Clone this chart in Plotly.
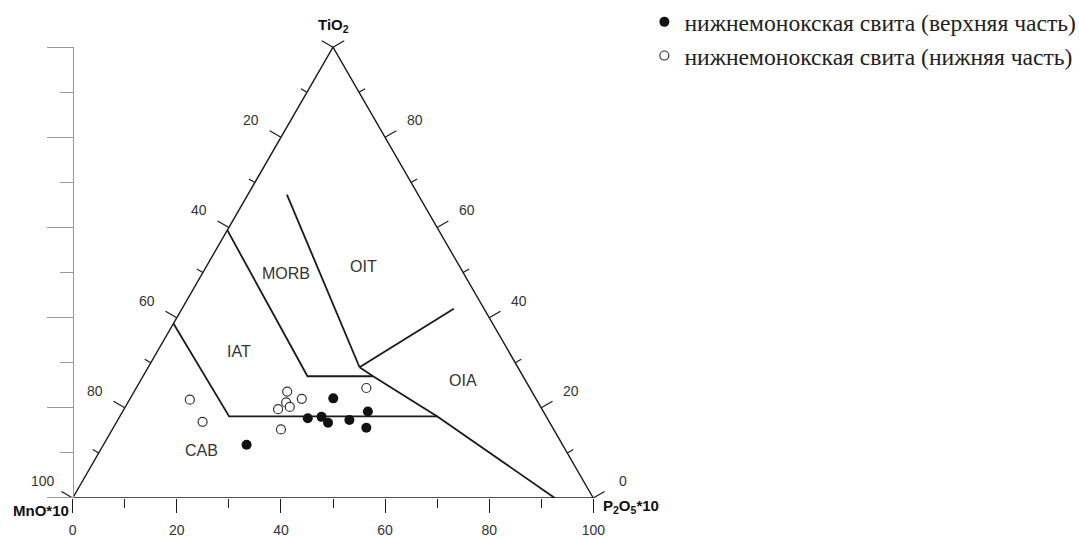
import numpy as np
import plotly.graph_objects as go

# Mullen (1983) discrimination diagram MnO*10 – TiO2 – P2O5*10, values in % (rows sum to 100)
upper_tio2 = [22.1, 17.7, 18.0, 16.7, 17.3, 19.2, 15.6, 11.8]
upper_mno = [38.9, 46.0, 43.2, 42.6, 38.2, 33.7, 35.8, 60.7]
upper_p2o5 = [39.0, 36.3, 38.8, 40.7, 44.5, 47.1, 48.6, 27.5]

lower_tio2 = [21.8, 16.9, 23.6, 21.2, 20.2, 19.7, 22.0, 15.2, 24.4]
lower_mno = [66.6, 66.6, 47.0, 48.4, 48.2, 50.7, 45.0, 52.4, 31.4]
lower_p2o5 = [11.6, 16.5, 29.4, 30.4, 31.6, 29.6, 33.0, 32.4, 44.2]

series_names = ["нижнемонокская свита (верхняя часть)",
                "нижнемонокская свита (нижняя часть)"]

# field boundaries as (TiO2, MnO*10, P2O5*10) vertices
line_morb_iat = [(59.4, 40.6, 0.0), (27.0, 41.4, 31.6), (27.0, 28.8, 44.2)]
line_iat_cab = [(38.7, 61.3, 0.0), (18.1, 60.9, 21.0), (18.1, 20.9, 61.0)]
line_morb_oit = [(67.3, 25.2, 7.5), (29.0, 30.4, 40.6)]
line_oit_oia = [(29.0, 30.4, 40.6), (42.0, 5.8, 52.2)]
line_oia = [(29.0, 30.4, 40.6), (27.0, 28.8, 44.2), (18.1, 20.9, 61.0), (0.0, 7.4, 92.6)]

field_names = ["MORB", "OIT", "IAT", "OIA", "CAB"]
field_tio2 = [49.7, 51.3, 32.4, 26.1, 10.6]
field_mno = [34.1, 18.5, 51.8, 12.0, 69.9]
field_p2o5 = [16.2, 30.2, 15.8, 61.9, 19.5]

edge_steps = list(range(0, 101, 10))
label_steps = list(range(0, 101, 20))

R3 = np.sqrt(3) / 2


def to_xy(ti, mn, p):
    ti, mn, p = (np.asarray(v, dtype=float) for v in (ti, mn, p))
    s = ti + mn + p
    ti, p = ti / s * 100, p / s * 100
    return p + ti / 2, ti * R3


def poly(points):
    ti, mn, p = zip(*points)
    return to_xy(ti, mn, p)


# pixel geometry of the plotting area
W, H = 1079, 538
MB = 40
X0_PX = 72.7
SCALE = 5.206  # px per composition unit
PLOT_H = H - MB

INK = "#1a1a1a"
TXT = "#333333"
SANS = "Arial, Liberation Sans, sans-serif"

fig = go.Figure()

# triangle outline
tx, ty = to_xy([0, 100, 0, 0], [100, 0, 0, 100], [0, 0, 100, 0])
fig.add_trace(go.Scatter(x=tx, y=ty, mode="lines", line=dict(color=INK, width=1.4),
                         hoverinfo="skip", showlegend=False))

# field boundaries
for pts in (line_morb_iat, line_iat_cab, line_morb_oit, line_oit_oia, line_oia):
    lx, ly = poly(pts)
    fig.add_trace(go.Scatter(x=lx, y=ly, mode="lines", line=dict(color=INK, width=1.8),
                             hoverinfo="skip", showlegend=False))

# ticks on the inclined edges
n_left = np.array([-R3, 0.5])
n_right = np.array([R3, 0.5])
long_len, short_len = 13 / SCALE, 7 / SCALE
kx, ky = [], []
for v in edge_steps:
    ln = long_len if v % 20 == 0 else short_len
    # left edge: MnO*10 = v
    ex, ey = to_xy(100 - v, v, 0)
    kx += [float(ex), float(ex + n_left[0] * ln), None]
    ky += [float(ey), float(ey + n_left[1] * ln), None]
    # right edge: TiO2 = v
    ex, ey = to_xy(v, 0, 100 - v)
    kx += [float(ex), float(ex + n_right[0] * ln), None]
    ky += [float(ey), float(ey + n_right[1] * ln), None]
fig.add_trace(go.Scatter(x=kx, y=ky, mode="lines", line=dict(color=INK, width=1.2),
                         hoverinfo="skip", showlegend=False))

# data
ux, uy = to_xy(upper_tio2, upper_mno, upper_p2o5)
fig.add_trace(go.Scatter(x=ux, y=uy, mode="markers", name=series_names[0],
                         marker=dict(symbol="circle", size=10, color="#111111",
                                     line=dict(width=0))))
lx_, ly_ = to_xy(lower_tio2, lower_mno, lower_p2o5)
fig.add_trace(go.Scatter(x=lx_, y=ly_, mode="markers", name=series_names[1],
                         marker=dict(symbol="circle", size=9, color="white",
                                     line=dict(width=1.2, color="#333333"))))

# empty trace that carries the vertical scale on the left
fig.add_trace(go.Scatter(x=[], y=[], yaxis="y2", hoverinfo="skip", showlegend=False))

annotations = []
off = 34
for v in label_steps:
    if v > 0:
        ex, ey = to_xy(100 - v, v, 0)
        annotations.append(dict(x=float(ex), y=float(ey), text=str(v), showarrow=False,
                                xshift=-R3 * off, yshift=0.5 * off,
                                font=dict(family=SANS, size=14, color=TXT)))
    if v < 100:
        ex, ey = to_xy(v, 0, 100 - v)
        annotations.append(dict(x=float(ex), y=float(ey), text=str(v), showarrow=False,
                                xshift=R3 * off, yshift=0.5 * off,
                                font=dict(family=SANS, size=14, color=TXT)))

# field names
fx, fy = to_xy(field_tio2, field_mno, field_p2o5)
for name, x, y in zip(field_names, fx, fy):
    annotations.append(dict(x=float(x), y=float(y), text=name, showarrow=False,
                            font=dict(family=SANS, size=16, color=TXT)))

# apex names
apex_font = dict(family=SANS, size=15, color="#111111")
ax_, ay_ = to_xy(100, 0, 0)
annotations.append(dict(x=float(ax_), y=float(ay_), text="<b>TiO<sub>2</sub></b>",
                        showarrow=False, yshift=22, font=apex_font))
bx_, by_ = to_xy(0, 100, 0)
annotations.append(dict(x=float(bx_), y=float(by_), text="<b>MnO*10</b>", showarrow=False,
                        xanchor="right", xshift=-2, yshift=-12, font=apex_font))
cx_, cy_ = to_xy(0, 0, 100)
annotations.append(dict(x=float(cx_), y=float(cy_), text="<b>P<sub>2</sub>O<sub>5</sub>*10</b>",
                        showarrow=False, xanchor="left", xshift=8, yshift=-8, font=apex_font))

x_lo = -X0_PX / SCALE
x_hi = (W - X0_PX) / SCALE
y_hi = PLOT_H / SCALE
ruler_vals = [v * R3 for v in edge_steps]

fig.update_layout(
    width=W, height=H,
    margin=dict(l=0, r=0, t=0, b=MB, autoexpand=False),
    paper_bgcolor="white", plot_bgcolor="rgba(0,0,0,0)",
    annotations=annotations,
    xaxis=dict(range=[x_lo, x_hi], showgrid=False, zeroline=False, showline=False,
               ticks="outside", ticklen=14, tickwidth=1.3, tickcolor=INK,
               tickvals=label_steps, ticktext=[str(v) for v in label_steps],
               ticklabelstandoff=5,
               tickfont=dict(family=SANS, size=14, color=TXT),
               minor=dict(tickvals=[v for v in edge_steps if v % 20], ticks="outside",
                          ticklen=9, tickwidth=1.3, tickcolor=INK)),
    yaxis=dict(range=[0, y_hi], visible=False),
    yaxis2=dict(range=[0, 100 * R3], domain=[0, 100 * R3 * SCALE / PLOT_H],
                anchor="free", position=X0_PX / W, side="left",
                showgrid=False, zeroline=False, showline=True, linecolor="#9a9a9a",
                linewidth=1, showticklabels=False,
                ticks="outside", ticklen=26, tickcolor="#9a9a9a", tickwidth=1,
                tickvals=[ruler_vals[i] for i in range(0, 11, 2)],
                minor=dict(tickvals=[ruler_vals[i] for i in range(1, 11, 2)],
                           ticks="outside", ticklen=13, tickcolor="#9a9a9a", tickwidth=1)),
    legend=dict(x=0.5972, y=1.0, xanchor="left", yanchor="top",
                bgcolor="rgba(0,0,0,0)",
                font=dict(family="Times New Roman, Liberation Serif, serif", size=23.6,
                          color="#222222")),
)

fig.write_html("out.html")
